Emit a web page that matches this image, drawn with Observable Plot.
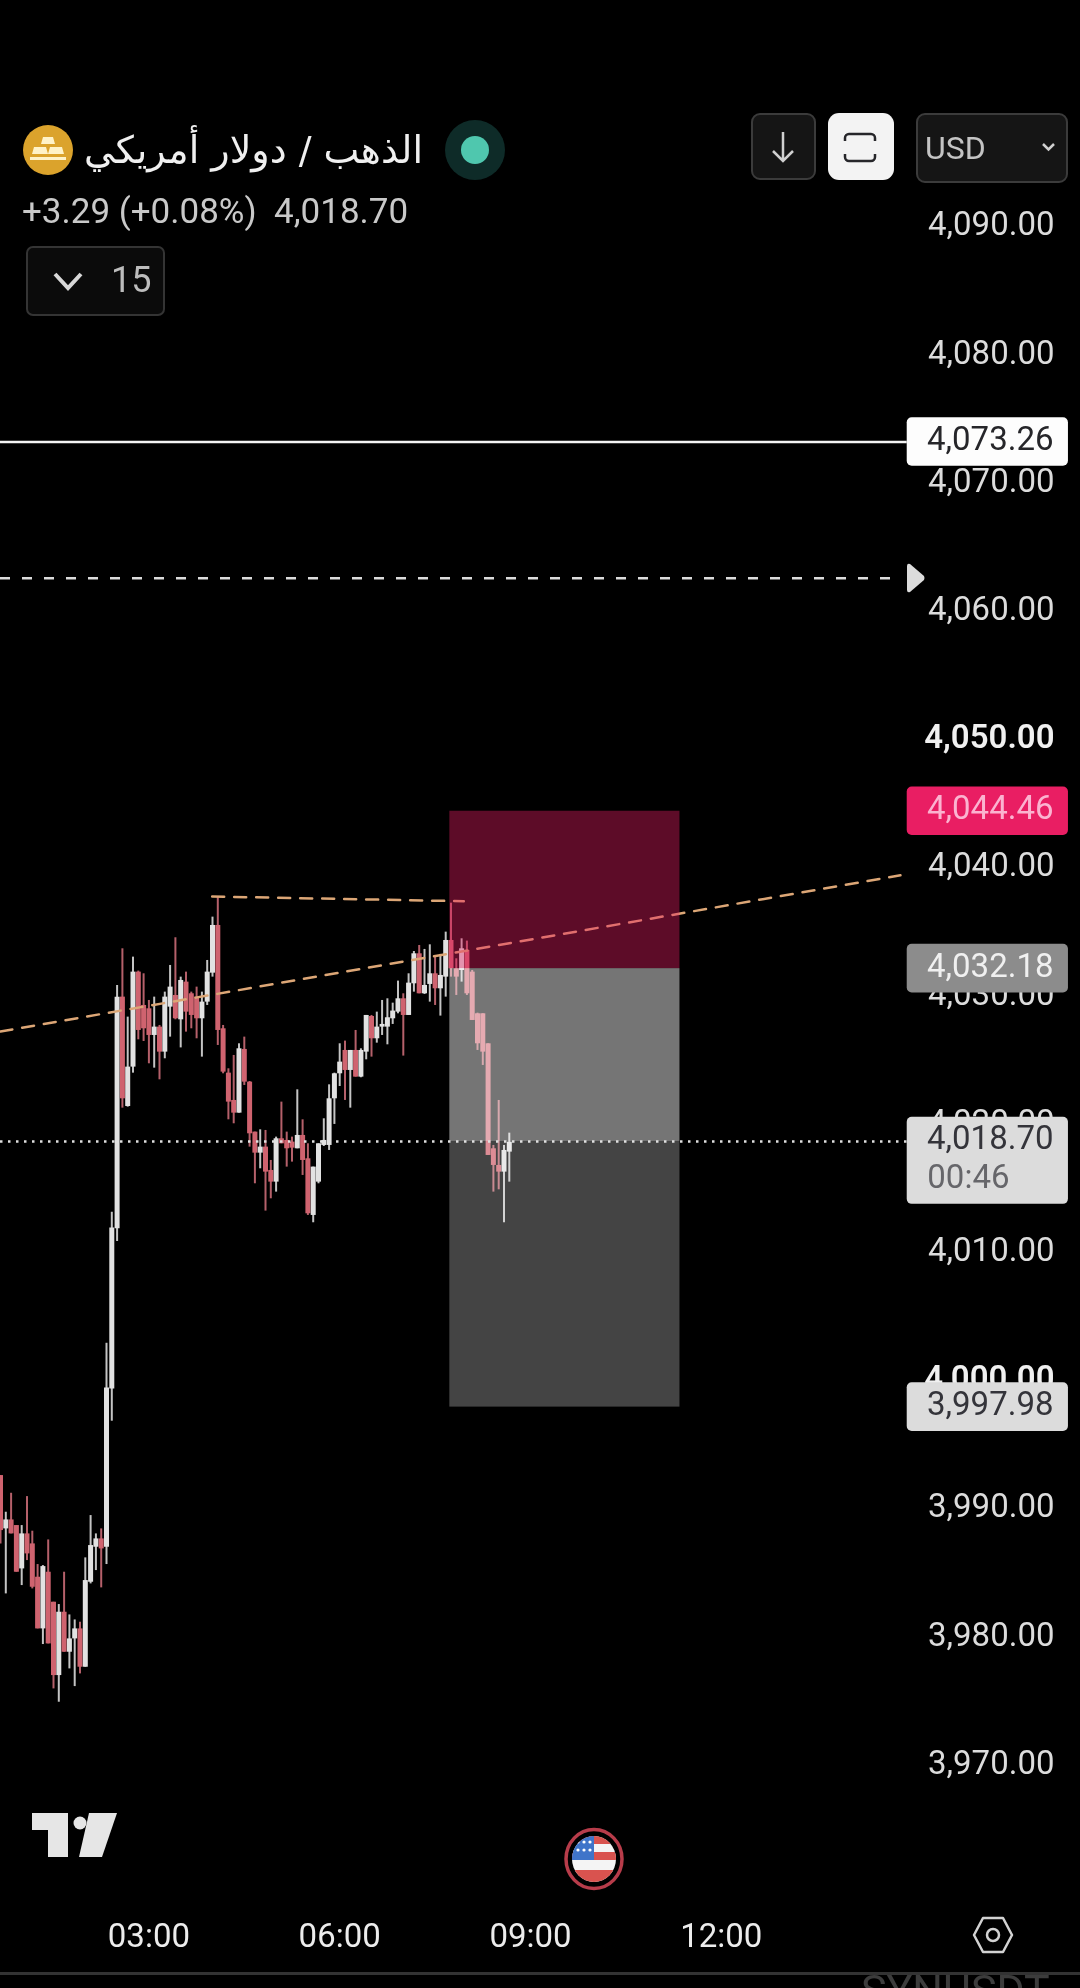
<!DOCTYPE html>
<html><head><meta charset="utf-8">
<script src="https://cdn.jsdelivr.net/npm/d3@7"></script>
<script src="https://cdn.jsdelivr.net/npm/@observablehq/plot@0.6"></script>
<style>
html,body{margin:0;padding:0;background:#000;width:1080px;height:1988px;overflow:hidden}
#page{position:relative;width:1080px;height:1988px;overflow:hidden;background:#000;font-family:Roboto,sans-serif;filter:blur(0.6px)}
#page svg{display:block}
.ov{position:absolute;white-space:nowrap;line-height:1}
.ico{position:absolute;overflow:visible}
.box{position:absolute;box-sizing:border-box}
</style></head><body><div id="page"></div>
<script>
const firstMinute = 40, candleStep = 5;
const highs = [3992.64,3989.78,3991.26,3988.74,3988.74,3991.0,3988.30,3985.70,3985.62,3987.62,3982.76,3982.58,3985.10,3981.77,3981.38,3981.20,3986.22,3989.52,3988.09,3988.48,4002.96,4013.18,4030.87,
4033.73,4028.40,4033.08,4031.99,4031.78,4029.70,4029.96,4027.75,4030.35,4032.43,4034.59,4031.52,4031.91,4030.35,4030.74,4030.35,4032.82,4036.20,4037.76,4027.75,4024.37,4025.41,4026.32,4026.84,4023.38,4019.43,4019.61,4019.56,4017.22,4019.04,4021.77,4019.43,4019.04,4022.73,4020.39,4018.52,4016.70,4018.52,4020.47,4023.12,4024.03,4026.32,4026.53,4025.80,4027.36,4025.93,4028.53,4028.53,4028.79,4029.70,4029.83,4029.49,4031.21,4030.22,4031.78,4033.52,4033.99,4033.68,4034.04,4033.21,4033.29,4035.03,4037.29,4032.95,4034.51,4034.33,4032.04,4028.71,4028.66,4026.32,4018.39,4021.90,4018.39,4019.35];
const lows = [3987.31,3983.41,3988.09,3985.10,3984.06,3986.01,3983.80,3980.68,3979.46,3979.51,3976.0,3974.96,3978.86,3977.56,3976.18,3977.17,3977.69,3984.19,3985.23,3983.88,3985.70,3996.88,4010.9,
4021.30,4021.38,4024.03,4026.63,4026.50,4024.76,4024.42,4023.51,4025.15,4026.84,4028.19,4026.0,4027.23,4027.49,4026.71,4025.28,4029.31,4031.52,4026.19,4023.98,4020.39,4020.08,4020.91,4023.07,4018.26,4015.40,4016.57,4013.27,4014.23,4014.75,4018.52,4016.70,4017.09,4018.13,4016.05,4012.93,4012.36,4015.40,4018.31,4018.0,4020.03,4022.99,4021.90,4021.30,4023.72,4023.67,4025.07,4025.28,4026.37,4026.97,4026.24,4027.83,4028.66,4025.36,4028.53,4030.35,4030.22,4030.17,4029.57,4029.31,4028.48,4029.96,4031.52,4030.09,4031.13,4030.09,4028.14,4025.80,4024.63,4017.61,4014.75,4014.93,4012.36,4015.53];
const opens = [3992.64,3988.48,3989.18,3988.74,3985.36,3988.09,3987.31,3984.71,3980.68,3985.10,3982.76,3977.04,3981.98,3978.86,3979.90,3980.68,3977.69,3984.32,3987.05,3987.70,3987.05,3999.40,4011.89,
4029.96,4021.43,4024.50,4031.91,4029.31,4029.05,4026.97,4027.62,4025.67,4029.18,4030.09,4028.19,4031.13,4030.22,4029.96,4028.27,4029.57,4031.83,4035.55,4027.49,4024.03,4021.90,4020.91,4025.88,4023.33,4019.43,4017.79,4018.26,4016.44,4015.53,4018.91,4018.78,4018.65,4018.13,4019.17,4017.35,4012.93,4015.53,4018.39,4018.39,4022.03,4023.98,4025.80,4024.24,4025.80,4023.72,4025.67,4028.45,4026.71,4027.62,4027.62,4028.27,4028.79,4029.83,4028.53,4031.0,4033.34,4030.22,4030.95,4031.78,4030.61,4031.52,4034.38,4032.17,4032.04,4033.60,4031.91,4028.66,4028.66,4026.32,4018.13,4016.83,4016.31,4017.87];
const closes = [3988.35,3989.18,3988.09,3985.10,3988.09,3986.53,3983.93,3980.68,3985.54,3979.51,3977.04,3981.98,3978.86,3979.90,3980.68,3977.69,3984.45,3987.18,3987.70,3986.92,3999.48,4011.96,4029.96,
4022.03,4024.50,4031.91,4027.36,4027.49,4026.97,4027.62,4025.67,4029.96,4030.74,4028.27,4031.26,4028.79,4028.53,4028.27,4029.57,4031.91,4035.55,4027.36,4024.11,4021.77,4020.91,4025.93,4023.33,4019.30,4017.79,4018.26,4016.31,4015.53,4018.91,4018.52,4018.13,4018.18,4019.17,4017.22,4013.06,4016.70,4018.52,4018.78,4022.03,4023.98,4024.89,4024.24,4025.80,4023.72,4025.80,4028.53,4026.71,4027.62,4027.83,4028.35,4028.87,4029.83,4028.53,4031.05,4033.34,4030.22,4030.87,4031.78,4030.61,4031.65,4034.38,4032.17,4031.52,4033.73,4030.22,4028.14,4026.32,4025.67,4017.61,4016.83,4016.31,4018.0,4018.65];

const yTicks = [4090,4080,4070,4060,4040,4030,4020,4010,3990,3980,3970];
const yTicksBold = [4050,4000];
const xTickMinutes = [180,360,540,720];
const xTickLabels = ["03:00","06:00","09:00","12:00"];
const entry = 4032.18, stopLevel = 4044.46, targetLevel = 3997.98, lastPrice = 4018.70, alertLevel = 4073.26, dashedLevel = 4062.64;
const zoneStart = 463.9, zoneEnd = 681;
const trendUp = [{m:40,v:4027.28},{m:889,v:4039.46}];
const trendFlat = [{m:239.7,v:4037.81},{m:477.1,v:4037.44}];
const tagStart = 895.4, tagEnd = 1047.5, tagText = 1033.4, tagHalf = 1.895;
const tags = [
 {v:alertLevel,fill:"#fdfdfd",text:"#26262a",label:"4,073.26"},
 {v:stopLevel,fill:"#e91e63",text:"#fbb3d0",label:"4,044.46"},
 {v:entry,fill:"#8c8c8c",text:"#f0f0f0",label:"4,032.18"},
 {v:targetLevel,fill:"#dcdcdc",text:"#34343a",label:"3,997.98"}
];
const candles = highs.map((h,i)=>({t:firstMinute+candleStep*i,high:h,low:lows[i],open:opens[i],close:closes[i],up:closes[i]>=opens[i]}));
const yFmt = d3.format(",.2f");
const axisStyle = {anchor:"right",tickSize:0,label:null,textAnchor:"end",dx:-35,dy:-2.5,fontSize:33,fill:"#dcdcdc",tickFormat:yFmt};

const chart = Plot.plot({
 width:1080,height:1988,marginTop:0,marginRight:0,marginBottom:0,marginLeft:0,
 style:{background:"#000",fontFamily:"Roboto, sans-serif",overflow:"hidden"},
 x:{type:"linear",domain:[40,1058.87],range:[0,1080]},
 y:{type:"linear",domain:[3952.63,4107.70],range:[1988,0]},
 marks:[
  Plot.ruleX(candles,{x:"t",y1:"low",y2:"high",stroke:d=>d.up?"#c4c4c4":"#b5606a",strokeWidth:2}),
  Plot.ruleX(candles,{x:"t",y1:"open",y2:"close",stroke:d=>d.up?"#e2e2e2":"#cf636f",strokeWidth:5}),
  Plot.line(trendUp,{x:"m",y:"v",stroke:"#dca676",strokeWidth:2.5,strokeDasharray:"12,10"}),
  Plot.line(trendFlat,{x:"m",y:"v",stroke:"#dca676",strokeWidth:2.5,strokeDasharray:"12,10"}),
  Plot.rect([{y1:entry,y2:stopLevel}],{x1:zoneStart,x2:zoneEnd,y1:"y1",y2:"y2",fill:"#e91e63",fillOpacity:0.4}),
  Plot.rect([{y1:lastPrice,y2:entry}],{x1:zoneStart,x2:zoneEnd,y1:"y1",y2:"y2",fill:"#fff",fillOpacity:0.46}),
  Plot.rect([{y1:targetLevel,y2:lastPrice}],{x1:zoneStart,x2:zoneEnd,y1:"y1",y2:"y2",fill:"#fff",fillOpacity:0.267}),
  Plot.ruleY([lastPrice],{x1:40,x2:tagStart,stroke:"#e0e0e0",strokeWidth:2.5,strokeDasharray:"2.5,5.5"}),
  Plot.ruleY([dashedLevel],{x1:40,x2:tagStart-5,stroke:"#dcdcdc",strokeWidth:2.5,strokeDasharray:"10,12"}),
  Plot.ruleY([alertLevel],{x1:40,x2:tagStart,stroke:"#f4f4f4",strokeWidth:2.5}),
  Plot.axisY(yTicks,axisStyle),
  Plot.axisY(yTicksBold,{...axisStyle,fontWeight:600,fill:"#f0f0f0"}),
  Plot.axisX(xTickMinutes,{anchor:"bottom",tickSize:0,label:null,dy:-74,fontSize:33,fill:"#ececec",tickFormat:(d,i)=>xTickLabels[i]}),
  Plot.rect(tags,{x1:tagStart,x2:tagEnd,y1:d=>d.v-tagHalf,y2:d=>d.v+tagHalf,fill:d=>d.fill,rx:5}),
  Plot.rect([{v:lastPrice}],{x1:tagStart,x2:tagEnd,y1:d=>d.v+tagHalf-6.8,y2:d=>d.v+tagHalf,fill:"#dcdcdc",rx:5}),
  Plot.text(tags,{x:tagText,y:"v",text:"label",fill:d=>d.text,textAnchor:"end",dy:-2.5,fontSize:33}),
  Plot.text([{v:lastPrice,label:"4,018.70"}],{x:tagText,y:"v",text:"label",fill:"#34343a",textAnchor:"end",dy:-3,fontSize:33}),
  Plot.text([{v:lastPrice,label:"00:46"}],{x:tagText,y:"v",text:"label",fill:"#66666a",textAnchor:"end",dx:-44,dy:36,fontSize:33})
 ]
});
const page = document.getElementById("page");
page.appendChild(chart);

function add(html){const t=document.createElement("template");t.innerHTML=html.trim();page.appendChild(t.content.firstChild);}
function box(x,y,w,h,fill,stroke,r){add(`<div class="box" style="left:${x}px;top:${y}px;width:${w}px;height:${h}px;background:${fill};border:${stroke?`2px solid ${stroke}`:"none"};border-radius:${r}px"></div>`);}
function txt(x,y,s,size,color,extra=""){add(`<div class="ov" style="left:${x}px;top:${y}px;font-size:${size}px;color:${color};${extra}">${s}</div>`);}
function ico(x,y,w,h,inner){add(`<svg class="ico" style="left:${x}px;top:${y}px" width="${w}" height="${h}" viewBox="0 0 ${w} ${h}">${inner}</svg>`);}

// header
ico(23,124,50,52,`<circle cx="25" cy="26" r="25" fill="#dba32c"/><path d="M20 13h10l2 7H18zM11 23h12l2 7H9zM27 23h12l2 7H25z" fill="#fff3c8"/><path d="M7 33h36v3H7z" fill="#fff3c8"/>`);
txt(86,131,"الذهب / دولار أمريكي",38,"#f0f0f0","font-family:'DejaVu Sans';direction:rtl;width:337px;text-align:center");
ico(445,120,60,60,`<circle cx="30" cy="30" r="30" fill="#0e2b28"/><circle cx="30" cy="30" r="14" fill="#4fc7ae"/>`);
txt(22,194,"+3.29 (+0.08%)&nbsp;&nbsp;4,018.70",35,"#c9c9c9");
box(26,246,139,70,"#0b0b0b","#343434",7);
ico(52,270,34,22,`<path d="M3 4 L16 18 L29 4" fill="none" stroke="#d8d8d8" stroke-width="4"/>`);
txt(111,262,"15",36,"#bdbdbd");
box(751,113,65,67,"#151515","#3b3b3b",9);
ico(770,130,26,34,`<path d="M13 2V31M3 21L13 31L23 21" fill="none" stroke="#d0d0d0" stroke-width="2.5"/>`);
box(828,113,66,67,"#f3f3f3",null,11);
ico(843,132,34,32,`<path d="M2 9V6a4 4 0 0 1 4-4h22a4 4 0 0 1 4 4v3M2 22v3a4 4 0 0 0 4 4h22a4 4 0 0 0 4-4v-3" fill="none" stroke="#26262a" stroke-width="2.5"/>`);
box(916,113,152,70,"#151515","#3b3b3b",9);
txt(925,132,"USD",32,"#c4c4c4");
ico(1041,142,15,10,`<path d="M2 2L7.5 7.5L13 2" fill="none" stroke="#d0d0d0" stroke-width="2.5"/>`);
// arrow on the dashed line
ico(906,563,20,30,`<path d="M1 3 Q1 0 4 1 L18 13 Q19 15 18 17 L4 29 Q1 30 1 27Z" fill="#dcdcdc"/>`);
// bottom
ico(32,1813,85,44,`<path d="M0 0H36V44H16V17H0Z" fill="#e6e6e6"/><circle cx="48" cy="10" r="6.5" fill="#e6e6e6"/><path d="M57 0H85L70 44H47Z" fill="#e6e6e6"/>`);
ico(564,1828,60,62,`<defs><clipPath id="fc"><ellipse cx="30" cy="31" rx="22" ry="23"/></clipPath></defs>
<ellipse cx="30" cy="31" rx="28" ry="29.5" fill="none" stroke="#b73c4a" stroke-width="3.5"/>
<g clip-path="url(#fc)"><rect width="60" height="62" fill="#f4f4f4"/><rect y="8" width="60" height="8" fill="#d9534f"/><rect y="24" width="60" height="8" fill="#d9534f"/><rect y="42" width="60" height="14" fill="#d9534f"/>
<rect x="6" y="6" width="24" height="26" fill="#3f74c9"/><g fill="#fff"><circle cx="14" cy="14" r="1.6"/><circle cx="20" cy="14" r="1.6"/><circle cx="26" cy="14" r="1.6"/><circle cx="14" cy="22" r="1.6"/><circle cx="20" cy="22" r="1.6"/><circle cx="26" cy="22" r="1.6"/></g></g>`);
ico(972,1916,42,38,`<path d="M11 2H31L40 19L31 36H11L2 19Z" fill="none" stroke="#d2d2d2" stroke-width="2.5" stroke-linejoin="round"/><circle cx="21" cy="19" r="6" fill="none" stroke="#d2d2d2" stroke-width="2.5"/>`);
// what follows the chart, then the divider
txt(861,1969,"SYNUSDT",43,"#3c3c3c");
add(`<div class="box" style="left:0;top:1972px;width:1080px;height:3px;background:#333"></div>`);
</script></body></html>
